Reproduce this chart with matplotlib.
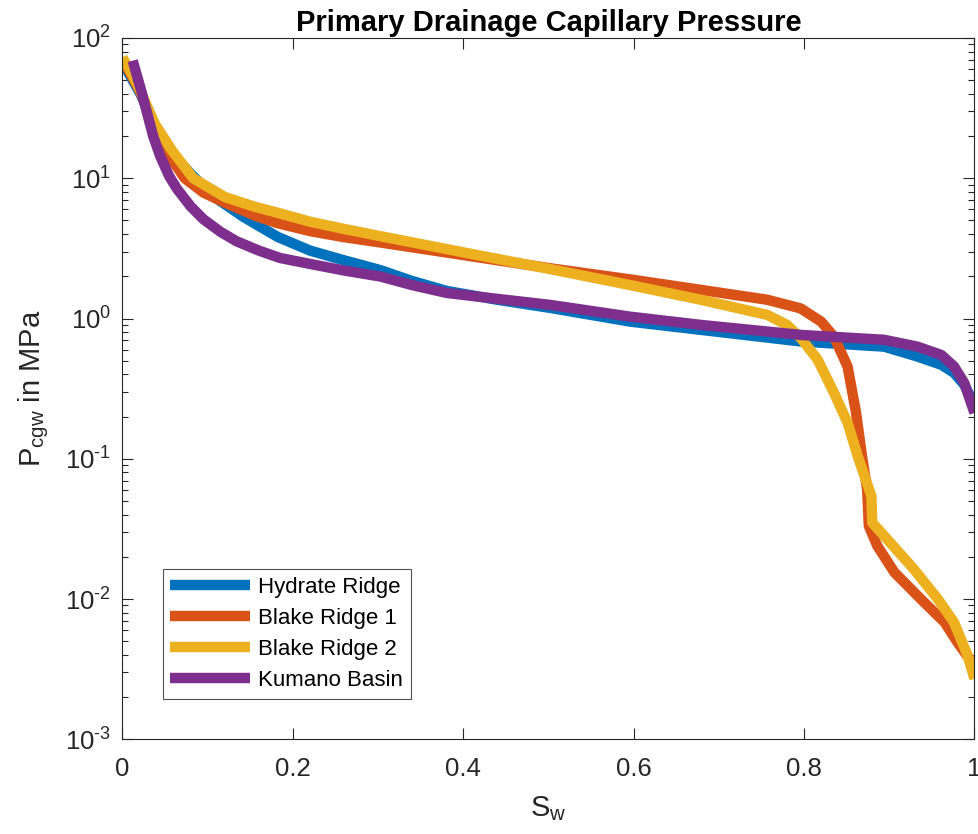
import numpy as np
import matplotlib
matplotlib.use("Agg")
import matplotlib.pyplot as plt
from matplotlib.ticker import LogLocator, FixedLocator, FuncFormatter

plt.rcParams["font.family"] = ["Liberation Sans", "DejaVu Sans"]
plt.rcParams["mathtext.fontset"] = "custom"
plt.rcParams["mathtext.rm"] = "Liberation Sans"
plt.rcParams["mathtext.it"] = "Liberation Sans"
plt.rcParams["axes.unicode_minus"] = False

# ── data ─────────────────────────────────────────────────────
hr_sw = [0.0, 0.012, 0.021, 0.038, 0.058, 0.083, 0.11, 0.142, 0.182, 0.22,
         0.26, 0.303, 0.34, 0.381, 0.44, 0.502, 0.596, 0.679, 0.796, 0.894,
         0.933, 0.961, 0.976, 0.988, 1.0]
hr_pc = [67, 50, 40, 23.5, 15.0, 10.3, 7.2, 5.3, 3.82, 3.05,
         2.6, 2.21, 1.85, 1.57, 1.36, 1.19, 0.95, 0.83, 0.686, 0.63,
         0.536, 0.468, 0.41, 0.337, 0.243]

br1_sw = [0.0, 0.012, 0.021, 0.038, 0.055, 0.073, 0.095, 0.12, 0.156, 0.181,
          0.22, 0.26, 0.303, 0.381, 0.502, 0.596, 0.679, 0.757, 0.796, 0.820,
          0.835, 0.851, 0.861, 0.868, 0.874, 0.876, 0.886, 0.906, 0.937, 0.965,
          0.980, 0.994, 1.0]
br1_pc = [70, 52, 41, 23, 14.5, 10.0, 7.9, 6.7, 5.4, 4.8,
          4.2, 3.8, 3.48, 2.95, 2.28, 1.90, 1.60, 1.36, 1.18, 0.95,
          0.743, 0.455, 0.213, 0.104, 0.0605, 0.0332, 0.0239, 0.0155, 0.0100, 0.00682,
          0.00492, 0.00375, 0.00279]

br2_sw = [0.0, 0.012, 0.021, 0.038, 0.058, 0.083, 0.12, 0.156, 0.181, 0.22,
          0.26, 0.303, 0.381, 0.502, 0.596, 0.679, 0.757, 0.780, 0.796, 0.816,
          0.835, 0.851, 0.863, 0.879, 0.880, 0.894, 0.929, 0.957, 0.976, 0.992,
          1.0]
br2_pc = [72.7, 54, 42, 24.4, 15.8, 10.0, 7.35, 6.24, 5.7, 4.9,
          4.35, 3.86, 3.12, 2.25, 1.73, 1.36, 1.06, 0.90, 0.728, 0.508,
          0.296, 0.181, 0.104, 0.0542, 0.0351, 0.0282, 0.0163, 0.0100, 0.00682, 0.00395,
          0.0027]

kb_sw = [0.012, 0.022, 0.029, 0.036, 0.044, 0.055, 0.064, 0.08, 0.095, 0.115,
         0.134, 0.16, 0.185, 0.22, 0.26, 0.303, 0.34, 0.381, 0.44, 0.502,
         0.596, 0.679, 0.796, 0.894, 0.933, 0.961, 0.976, 0.988, 1.0]
kb_pc = [68.9, 42, 29, 20, 14.5, 10.3, 8.4, 6.3, 5.1, 4.15,
         3.55, 3.05, 2.70, 2.45, 2.2, 1.99, 1.73, 1.52, 1.38, 1.25,
         1.03, 0.90, 0.764, 0.705, 0.63, 0.55, 0.455, 0.347, 0.212]

labels = ["Hydrate Ridge", "Blake Ridge 1", "Blake Ridge 2", "Kumano Basin"]
colors = ["#0072BD", "#D95319", "#EDB120", "#7E2F8E"]

# ── figure ───────────────────────────────────────────────────
fig = plt.figure(figsize=(9.79, 8.34), dpi=100)
ax = fig.add_axes([0.1251, 0.1135, 0.8703, 0.8410])

series = [(hr_sw, hr_pc), (br1_sw, br1_pc), (br2_sw, br2_pc), (kb_sw, kb_pc)]
for (sw, pc), lab, col in zip(series, labels, colors):
    ax.plot(sw, pc, color=col, lw=7.5, label=lab, solid_joinstyle="round",
            solid_capstyle="butt")

ax.set_yscale("log")
ax.set_xlim(0, 1)
ax.set_ylim(1e-3, 1e2)
ax.xaxis.set_major_locator(FixedLocator([0, 0.2, 0.4, 0.6, 0.8, 1.0]))
ax.set_xticklabels(["0", "0.2", "0.4", "0.6", "0.8", "1"])
ax.yaxis.set_major_locator(LogLocator(base=10, numticks=10))
ax.yaxis.set_minor_locator(LogLocator(base=10, subs=np.arange(2, 10), numticks=10))
# hyphen rather than minus sign in the exponents, as MATLAB draws them
ax.yaxis.set_major_formatter(FuncFormatter(
    lambda v, p: r"10$^{\text{%d}}$" % round(np.log10(v))))

axc = "#262626"
for s in ax.spines.values():
    s.set_color(axc)
    s.set_linewidth(0.8)
ax.tick_params(which="both", direction="in", top=True, right=True, colors=axc,
               labelsize=18.5, labelcolor=axc)
ax.tick_params(which="major", length=8, width=0.8)
ax.tick_params(which="minor", length=4, width=0.8)
ax.tick_params(axis="x", which="major", pad=13)
ax.tick_params(axis="y", which="major", pad=8)

ax.set_title("Primary Drainage Capillary Pressure", fontsize=21, fontweight="bold",
             pad=5)
ax.set_xlabel(r"S$_{\mathregular{w}}$", fontsize=21, color=axc, labelpad=9)
ax.set_ylabel(r"P$_{\mathregular{cgw}}$ in MPa", fontsize=21, color=axc, labelpad=10)

leg = ax.legend(loc="lower left", bbox_to_anchor=(0.047, 0.058), fontsize=16,
                frameon=True, fancybox=False, handlelength=3.6, handletextpad=0.35,
                borderpad=0.35, labelspacing=0.45, borderaxespad=0)
leg.get_frame().set_edgecolor(axc)
leg.get_frame().set_linewidth(0.8)

fig.savefig("out.png", dpi=100)
